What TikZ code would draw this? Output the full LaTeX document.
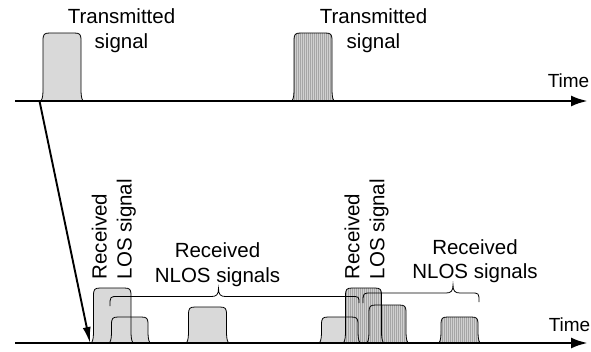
\documentclass[tikz,border=0pt]{standalone}
\usepackage{fontspec}
\setmainfont{Liberation Sans}
\usetikzlibrary{arrows.meta,patterns.meta}
\definecolor{lightg}{RGB}{217,217,217}
\definecolor{hatchbg}{RGB}{208,208,208}
\definecolor{hatchln}{RGB}{165,165,165}
\newcommand\pulsepath[4]{(#1,#4) .. controls (#1+2,#4-3) and (#1+2,#4-8) .. (#1+2,#4-13) -- (#1+2,#3+8) .. controls (#1+2,#3+1) and (#1+3,#3) .. (#1+9,#3) -- (#2-9,#3) .. controls (#2-3,#3) and (#2-2,#3+1) .. (#2-2,#3+8) -- (#2-2,#4-13) .. controls (#2-2,#4-8) and (#2-2,#4-3) .. (#2,#4)}
\newcommand\bracepath[7]{(#1,#6) .. controls (#1,#4) .. (#1+8,#4) -- (#3-7,#4) .. controls (#3-2,#4) and (#3,#4-2) .. (#3,#5) .. controls (#3,#4-2) and (#3+2,#4) .. (#3+7,#4) -- (#2-8,#4) .. controls (#2,#4) .. (#2,#7)}
\tikzset{
  axisline/.style={line width=2.8pt, -{Latex[length=17pt,width=11pt]}},
  delay/.style={line width=1.9pt, -{Latex[length=16pt,width=8pt]}},
  lightpulse/.style={fill=lightg},
  hatchpulse/.style={preaction={fill=hatchbg}, pattern={Lines[angle=90,distance=2pt,line width=0.7pt]}, pattern color=hatchln},
  pulseline/.style={draw=black, line width=0.8pt},
  braceline/.style={draw=black, line width=0.8pt},
  lbl/.style={font=\fontsize{20.5}{24.5}\selectfont, inner sep=0pt, align=center},
  vlbl/.style={font=\fontsize{20.5}{25}\selectfont, inner sep=0pt, align=left, rotate=90, anchor=north west},
  timelbl/.style={font=\fontsize{19}{22}\selectfont, inner sep=0pt, anchor=base east}
}
\begin{document}
\begin{tikzpicture}[x=1pt,y=-1pt]
\useasboundingbox (0,0) rectangle (591,351);
% coordinates
\coordinate (tA) at (15,101);
\coordinate (tB) at (588,101);
\coordinate (bA) at (15,343);
\coordinate (bB) at (588,343);
\coordinate (src) at (39.5,101);
\coordinate (dst) at (90,343);
% fills
\path[lightpulse] \pulsepath{41}{83}{33}{101};
\path[hatchpulse] \pulsepath{292}{334}{33}{101};
\path[lightpulse] \pulsepath{91.5}{133}{288}{343};
\path[lightpulse] \pulsepath{109.5}{150}{317}{343};
\path[lightpulse] \pulsepath{186.5}{228.5}{307}{343};
\path[lightpulse] \pulsepath{319.5}{360}{317}{343};
\path[hatchpulse] \pulsepath{343.5}{383.5}{288}{343};
\path[hatchpulse] \pulsepath{367}{408}{305}{343};
\path[hatchpulse] \pulsepath{439}{480}{317}{343};
% outlines
\draw[pulseline] \pulsepath{41}{83}{33}{101};
\draw[pulseline] \pulsepath{292}{334}{33}{101};
\draw[pulseline] \pulsepath{91.5}{133}{288}{343};
\draw[pulseline] \pulsepath{109.5}{150}{317}{343};
\draw[pulseline] \pulsepath{186.5}{228.5}{307}{343};
\draw[pulseline] \pulsepath{319.5}{360}{317}{343};
\draw[pulseline] \pulsepath{343.5}{383.5}{288}{343};
\draw[pulseline] \pulsepath{367}{408}{305}{343};
\draw[pulseline] \pulsepath{439}{480}{317}{343};
% braces
\draw[braceline] \bracepath{110}{359}{218.5}{296.5}{288.5}{306}{303};
\draw[braceline] \bracepath{363}{479}{453}{293}{285}{303}{302};
% axes
\draw[axisline] (tA) -- (tB);
\draw[axisline] (bA) -- (bB);
\draw[delay] (src) -- (dst);
% labels
\node[lbl] (tx1) at (121.5,30.5) {Transmitted\\signal};
\node[lbl] (tx2) at (373.5,30.5) {Transmitted\\signal};
\node[timelbl] (time1) at (589.5,87) {Time};
\node[timelbl] (time2) at (590.5,331) {Time};
\node[vlbl] (los1) at (91.5,279.5) {Received\\LOS signal};
\node[vlbl] (los2) at (344.3,279.5) {Received\\LOS signal};
\node[lbl] (nlos1) at (217.5,264.5) {Received\\NLOS signals};
\node[lbl] (nlos2) at (475,261) {Received\\NLOS signals};
\end{tikzpicture}
\end{document}
